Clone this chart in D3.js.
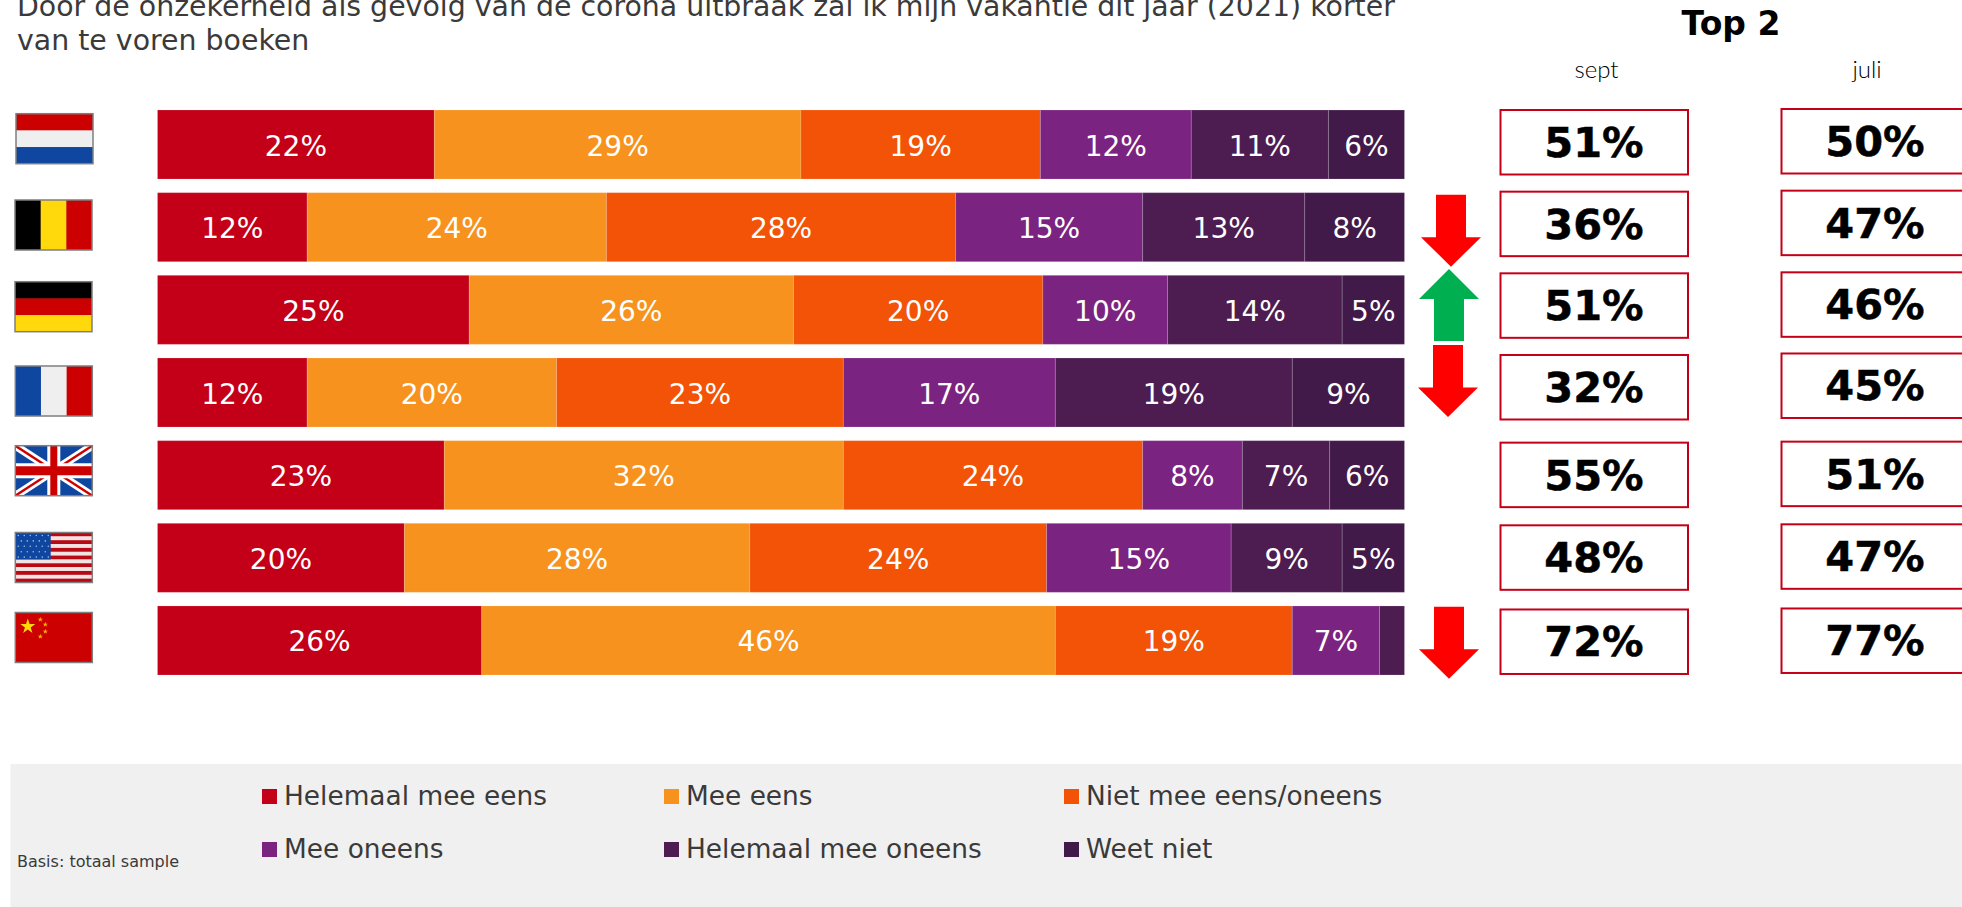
<!DOCTYPE html>
<html><head><meta charset="utf-8">
<script src="https://cdn.jsdelivr.net/npm/d3@7"></script>
<style>html,body{margin:0;padding:0;background:#fff;overflow:hidden}svg{display:block}</style>
</head><body><div id="chart"></div>
<script>
// ---- data ----
const countries = ["NL","BE","DE","FR","UK","US","CN"];
const seriesNames = ["Helemaal mee eens","Mee eens","Niet mee eens/oneens","Mee oneens","Helemaal mee oneens","Weet niet"];
const helemaalMeeEens   = [22.2,12,25,12,23,19.8,26];
const meeEens           = [29.4,24,26,20,32,27.7,46];
const nietMeeEens       = [19.2,28,20,23,24,23.8,19];
const meeOneens         = [12.1,15,10,17, 8,14.8, 7];
const helemaalMeeOneens = [11.0,13,14,19, 7, 8.9, 2];
const weetNiet          = [ 6.1, 8, 5, 9, 6, 5.0, 0];
const top2Sept = [51,36,51,32,55,48,72];
const top2Juli = [50,47,46,45,51,47,77];
const trend = [0,-1,1,-1,0,0,-1];
const titleLines = ["Door de onzekerheid als gevolg van de corona uitbraak zal ik mijn vakantie dit jaar (2021) korter","van te voren boeken"];
const basisText = "Basis: totaal sample";

// ---- styling / layout ----
const W=1962,H=907;
const FONT='"DejaVu Sans",Verdana,sans-serif';
const seriesColors=["#C40018","#F7921E","#F25306","#7B2380","#4D1D52","#421A4A"];
const seriesValues=[helemaalMeeEens,meeEens,nietMeeEens,meeOneens,helemaalMeeOneens,weetNiet];
const septOffsets=[0,-1,-2,-3,2,2,3.5];
const juliOffsets=[-1,-2,-3,-4.5,1,1,2.5];
const arrowShift={1:[1451,194.7],2:[1449,269],3:[1448,345],6:[1449,606.7]};

const svg=d3.select("#chart").append("svg").attr("width",W).attr("height",H).style("font-family",FONT);
const x=d3.scaleLinear().domain([0,100]).range([157.5,1404.5]);
const y=d3.scaleBand().domain(countries).range([110,675]).paddingInner(0.165);

// title
svg.append("g").selectAll("text").data(titleLines).join("text")
  .attr("x",17).attr("y",(d,i)=>16+i*34).attr("font-size",28.4).attr("fill","#3a3a3a").text(d=>d);
svg.append("text").attr("x",1731).attr("y",35).attr("text-anchor","middle").attr("font-weight","bold").attr("font-size",33).attr("fill","#000").text("Top 2");
svg.append("text").attr("x",1596.5).attr("y",78).attr("text-anchor","middle").attr("font-family","Lato").attr("font-weight",300).attr("font-size",24).attr("fill","#000").text("sept");
svg.append("text").attr("x",1867).attr("y",78).attr("text-anchor","middle").attr("font-family","Lato").attr("font-weight",300).attr("font-size",24).attr("fill","#000").text("juli");

// bars
const stacked=d3.stack().keys(d3.range(6)).value((i,k)=>seriesValues[k][i])(d3.range(countries.length));
const layers=svg.append("g").selectAll("g").data(stacked).join("g").attr("fill",(d,i)=>seriesColors[i]);
layers.selectAll("rect").data(d=>d.filter(v=>v[1]>v[0])).join("rect")
  .attr("x",d=>x(d[0])).attr("width",d=>x(d[1])-x(d[0]))
  .attr("y",d=>y(countries[d.data])).attr("height",y.bandwidth())
  .attr("stroke","rgba(255,255,255,0.16)").attr("stroke-width",1);
layers.selectAll("text").data(d=>d.filter(v=>v[1]-v[0]>=3)).join("text")
  .attr("x",d=>(x(d[0])+x(d[1]))/2).attr("y",d=>y(countries[d.data])+y.bandwidth()/2+11)
  .attr("text-anchor","middle").attr("font-size",28).attr("fill","#fff")
  .text(d=>Math.round(d[1]-d[0])+"%");

// top-2 boxes
function boxes(vals,offs,x0,w,h){
  const g=svg.append("g").selectAll("g").data(vals).join("g")
    .attr("transform",(d,i)=>`translate(${x0},${y(countries[i])+offs[i]})`);
  g.append("rect").attr("width",w).attr("height",h).attr("fill","#fff").attr("stroke","#C40018").attr("stroke-width",2);
  g.append("text").attr("x",93.5).attr("y",47).attr("text-anchor","middle").attr("font-weight","bold").attr("font-size",41.5).attr("fill","#000")
    .attr("stroke","#000").attr("stroke-width",0.5).text(d=>d+"%");
}
boxes(top2Sept,septOffsets,1500.5,187.5,64.5);
boxes(top2Juli,juliOffsets,1781.5,187.5,64.5);

// arrows
const arrowG=svg.append("g");
trend.forEach((t,i)=>{
  if(!t)return;
  const [cx,y0]=arrowShift[i];
  const p=t<0
    ?[[cx-15,y0],[cx+15,y0],[cx+15,y0+42.5],[cx+30,y0+42.5],[cx,y0+72],[cx-30,y0+42.5],[cx-15,y0+42.5]]
    :[[cx,y0],[cx+30,y0+30],[cx+15,y0+30],[cx+15,y0+72],[cx-15,y0+72],[cx-15,y0+30],[cx-30,y0+30]];
  arrowG.append("path").attr("d",d3.line()(p)+"Z").attr("fill",t<0?"#FF0000":"#00B050");
});

// flags
const flagW=77,flagH=50;
const flagPos=[[16,113.7],[15,200],[15,281.7],[15.3,366],[15.3,445.7],[15.3,532.5],[15.3,612.5]];
const defs=svg.append("defs");
defs.append("clipPath").attr("id","flagClip").append("rect").attr("width",flagW).attr("height",flagH);
const flagDraw={
 NL:g=>{["#CC0000","#EFEFEF","#0F47A0"].forEach((c,i)=>g.append("rect").attr("y",i*flagH/3).attr("width",flagW).attr("height",flagH/3+.5).attr("fill",c));},
 BE:g=>{["#000","#FFD90C","#CC0000"].forEach((c,i)=>g.append("rect").attr("x",i*flagW/3).attr("width",flagW/3+.5).attr("height",flagH).attr("fill",c));},
 DE:g=>{["#000","#CC0000","#FFD90C"].forEach((c,i)=>g.append("rect").attr("y",i*flagH/3).attr("width",flagW).attr("height",flagH/3+.5).attr("fill",c));},
 FR:g=>{["#0F47A0","#EFEFEF","#CC0000"].forEach((c,i)=>g.append("rect").attr("x",i*flagW/3).attr("width",flagW/3+.5).attr("height",flagH).attr("fill",c));},
 UK:g=>{
  g.append("rect").attr("width",flagW).attr("height",flagH).attr("fill","#0F47A0");
  const line=(a,b,c,d,s,w)=>g.append("line").attr("x1",a).attr("y1",b).attr("x2",c).attr("y2",d).attr("stroke",s).attr("stroke-width",w);
  line(0,0,flagW,flagH,"#fff",8);line(flagW,0,0,flagH,"#fff",8);
  line(0,0,flagW,flagH,"#CC0000",2.4);line(flagW,0,0,flagH,"#CC0000",2.4);
  line(flagW/2,0,flagW/2,flagH,"#fff",13);line(0,flagH/2,flagW,flagH/2,"#fff",15);
  line(flagW/2,0,flagW/2,flagH,"#CC0000",7);line(0,flagH/2,flagW,flagH/2,"#CC0000",9);
 },
 US:g=>{
  d3.range(13).forEach(i=>g.append("rect").attr("y",i*flagH/13).attr("width",flagW).attr("height",flagH/13+.3).attr("fill",i%2?"#F3E3E3":"#B80A14"));
  g.append("rect").attr("width",flagW*0.46).attr("height",flagH*7/13).attr("fill","#0F47A0");
  d3.range(5).forEach(r=>d3.range(r%2?5:6).forEach(c=>g.append("circle").attr("cx",3+c*6+(r%2?3:0)).attr("cy",3+r*5.4).attr("r",.8).attr("fill","#9dbbe3")));
 },
 CN:g=>{
  g.append("rect").attr("width",flagW).attr("height",flagH).attr("fill","#CC0000");
  const star=d3.symbol().type(d3.symbolStar);
  g.append("path").attr("d",star.size(70)()).attr("transform","translate(12.5,14)").attr("fill","#FFD90C");
  [[25,7],[30,12],[30,19],[25,24]].forEach(p=>g.append("path").attr("d",star.size(9)()).attr("transform",`translate(${p})`).attr("fill","#FFB400"));
 }
};
countries.forEach((c,i)=>{
  const g=svg.append("g").attr("transform",`translate(${flagPos[i]})`);
  const inner=g.append("g").attr("clip-path","url(#flagClip)");
  flagDraw[c](inner);
  g.append("rect").attr("width",flagW).attr("height",flagH).attr("fill","none").attr("stroke","#7f7f7f").attr("stroke-width",1.5);
});

// legend
svg.append("rect").attr("x",10.5).attr("y",764).attr("width",W-10.5).attr("height",H-764).attr("fill","#F0F0F0");
const legX=d3.scaleOrdinal().domain([0,1,2]).range([262,664,1064]);
const leg=svg.append("g").selectAll("g").data(seriesNames).join("g")
  .attr("transform",(d,i)=>`translate(${legX(i%3)},${i<3?789:842})`);
leg.append("rect").attr("width",15).attr("height",15).attr("fill",(d,i)=>seriesColors[i]);
leg.append("text").attr("x",22).attr("y",16).attr("font-size",26.4).attr("fill","#3a3a3a").text(d=>d);
svg.append("text").attr("x",17).attr("y",867).attr("font-size",16).attr("fill","#3a3a3a").text(basisText);
</script></body></html>
